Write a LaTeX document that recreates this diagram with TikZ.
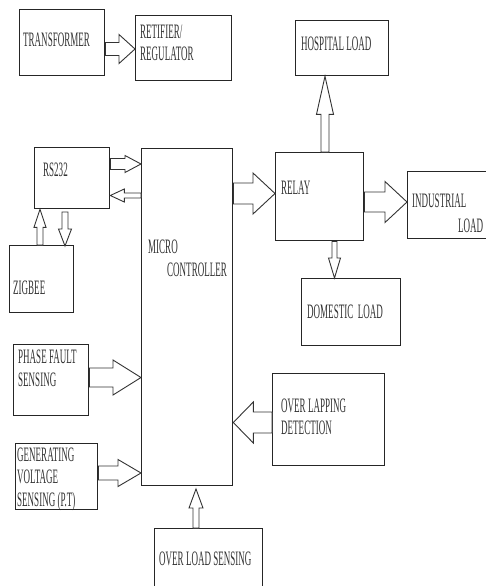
\documentclass[tikz,border=0pt]{standalone}
\usepackage{fontspec}
\setmainfont[FakeStretch=0.44]{Liberation Serif}
\usetikzlibrary{calc}
\tikzset{
  box/.style={draw=black!85, line width=1.3pt, rectangle, inner sep=0pt, anchor=north west},
  lbl/.style={anchor=base west, inner sep=0pt, font=\fontsize{20.5}{22}\selectfont, text=black!80},
  barr/.style={draw=black!80, line width=0.9pt, fill=white, line join=miter},
}
\newcommand{\bx}[5]{\node[box, minimum width={(#4-#2)*1pt}, minimum height={(#5-#3)*1pt}] (#1) at (#2,#3) {};}
% tail, tip, shaft half width, head half width, head length
\newcommand{\barrow}[5]{%
  \coordinate (hb) at ($(#2)!#5pt!(#1)$);
  \draw[barr] ($(#1)!#3pt!90:(#2)$) -- ($(hb)!#3pt!90:(#2)$) -- ($(hb)!#4pt!90:(#2)$) -- (#2)
    -- ($(hb)!#4pt!-90:(#2)$) -- ($(hb)!#3pt!-90:(#2)$) -- ($(#1)!#3pt!-90:(#2)$) -- cycle;}
\begin{document}
\begin{tikzpicture}[x=1pt,y=-1pt]
\useasboundingbox (0,0) rectangle (486,586);
\clip (0,0) rectangle (486,586);
\fill[white] (0,0) rectangle (486,586);
% boxes
\bx{tr}{19}{9}{104}{75}
\bx{re}{135}{15}{231}{80}
\bx{rs}{34}{147}{109}{208}
\bx{mc}{141}{148}{232}{485}
\bx{zb}{9}{245}{73}{312}
\bx{rl}{275}{152}{363}{240}
\bx{hp}{295}{20}{388}{75}
\bx{ind}{407}{171}{492}{238}
\bx{dm}{301}{278}{400}{345}
\bx{pf}{13}{344}{88}{415}
\bx{gv}{15}{443}{97}{509}
\bx{ol}{272}{373}{384}{465}
\bx{os}{154}{528}{262}{600}
% labels
\node[lbl] (t1) at (23,47) {TRANSFORMER};
\node[lbl] (t2) at (140,38) {RETIFIER/};
\node[lbl] (t3) at (140,60) {REGULATOR};
\node[lbl] (t4) at (43,176) {RS232};
\node[lbl] (t5) at (148,253) {MICRO};
\node[lbl] (t6) at (167,276) {CONTROLLER};
\node[lbl] (t7) at (13,294) {ZIGBEE};
\node[lbl] (t8) at (281,194) {RELAY};
\node[lbl] (t9) at (301,51) {HOSPITAL LOAD};
\node[lbl] (t10) at (412,207) {INDUSTRIAL};
\node[lbl] (t11) at (458,232) {LOAD};
\node[lbl] (t12) at (307,318) {DOMESTIC\ \ LOAD};
\node[lbl] (t13) at (18,363) {PHASE FAULT};
\node[lbl] (t14) at (18,386) {SENSING};
\node[lbl] (t15) at (17,461) {GENERATING};
\node[lbl] (t16) at (17,483) {VOLTAGE};
\node[lbl] (t17) at (17,506) {SENSING (P.T)};
\node[lbl] (t18) at (281,412) {OVER LAPPING};
\node[lbl] (t19) at (281,434) {DETECTION};
\node[lbl] (t20) at (159,565) {OVER LOAD SENSING};
% arrow end points
\coordinate (a1) at (tr.east |- 0,49);   \coordinate (b1) at (re.west |- 0,49);
\coordinate (a2) at (rs.east |- 0,164);  \coordinate (b2) at (mc.west |- 0,164);
\coordinate (a3) at (mc.west |- 0,195.5);\coordinate (b3) at (rs.east |- 0,195.5);
\coordinate (a4) at (zb.north -| 40,0);  \coordinate (b4) at (rs.south -| 40,0);
\coordinate (a5) at (65,212);            \coordinate (b5) at (65,246);
\coordinate (a6) at (mc.east |- 0,193.5);\coordinate (b6) at (rl.west |- 0,193.5);
\coordinate (a7) at (rl.north -| 325,0); \coordinate (b7) at (hp.south -| 325,0);
\coordinate (a8) at (rl.east |- 0,202);  \coordinate (b8) at (ind.west |- 0,202);
\coordinate (a9) at (rl.south -| 334.5,0);\coordinate (b9) at (dm.north -| 334.5,0);
\coordinate (a10) at (pf.east |- 0,377.5);\coordinate (b10) at (mc.west |- 0,377.5);
\coordinate (a11) at (gv.east |- 0,473); \coordinate (b11) at (mc.west |- 0,473);
\coordinate (a12) at (ol.west |- 0,422.5);\coordinate (b12) at (mc.east |- 0,422.5);
\coordinate (a13) at (os.north -| 196,0); \coordinate (b13) at (196,489);
% block arrows
\barrow{a1}{b1}{6.5}{14.5}{16}
\barrow{a2}{b2}{5.5}{8.5}{16}
\barrow{a3}{b3}{2.5}{6.5}{14}
\barrow{a4}{b4}{3}{6}{18}
\barrow{a5}{b5}{3}{6.5}{17}
\barrow{a6}{b6}{10.5}{20.5}{22}
\barrow{a7}{b7}{4}{8.5}{38}
\barrow{a8}{b8}{10}{20.5}{22}
\barrow{a9}{b9}{2.5}{6}{20}
\barrow{a10}{b10}{9.5}{17.5}{28}
\barrow{a11}{b11}{7}{13.5}{23}
\barrow{a12}{b12}{10.5}{20.5}{20}
\barrow{a13}{b13}{3}{7}{19}
\end{tikzpicture}
\end{document}
